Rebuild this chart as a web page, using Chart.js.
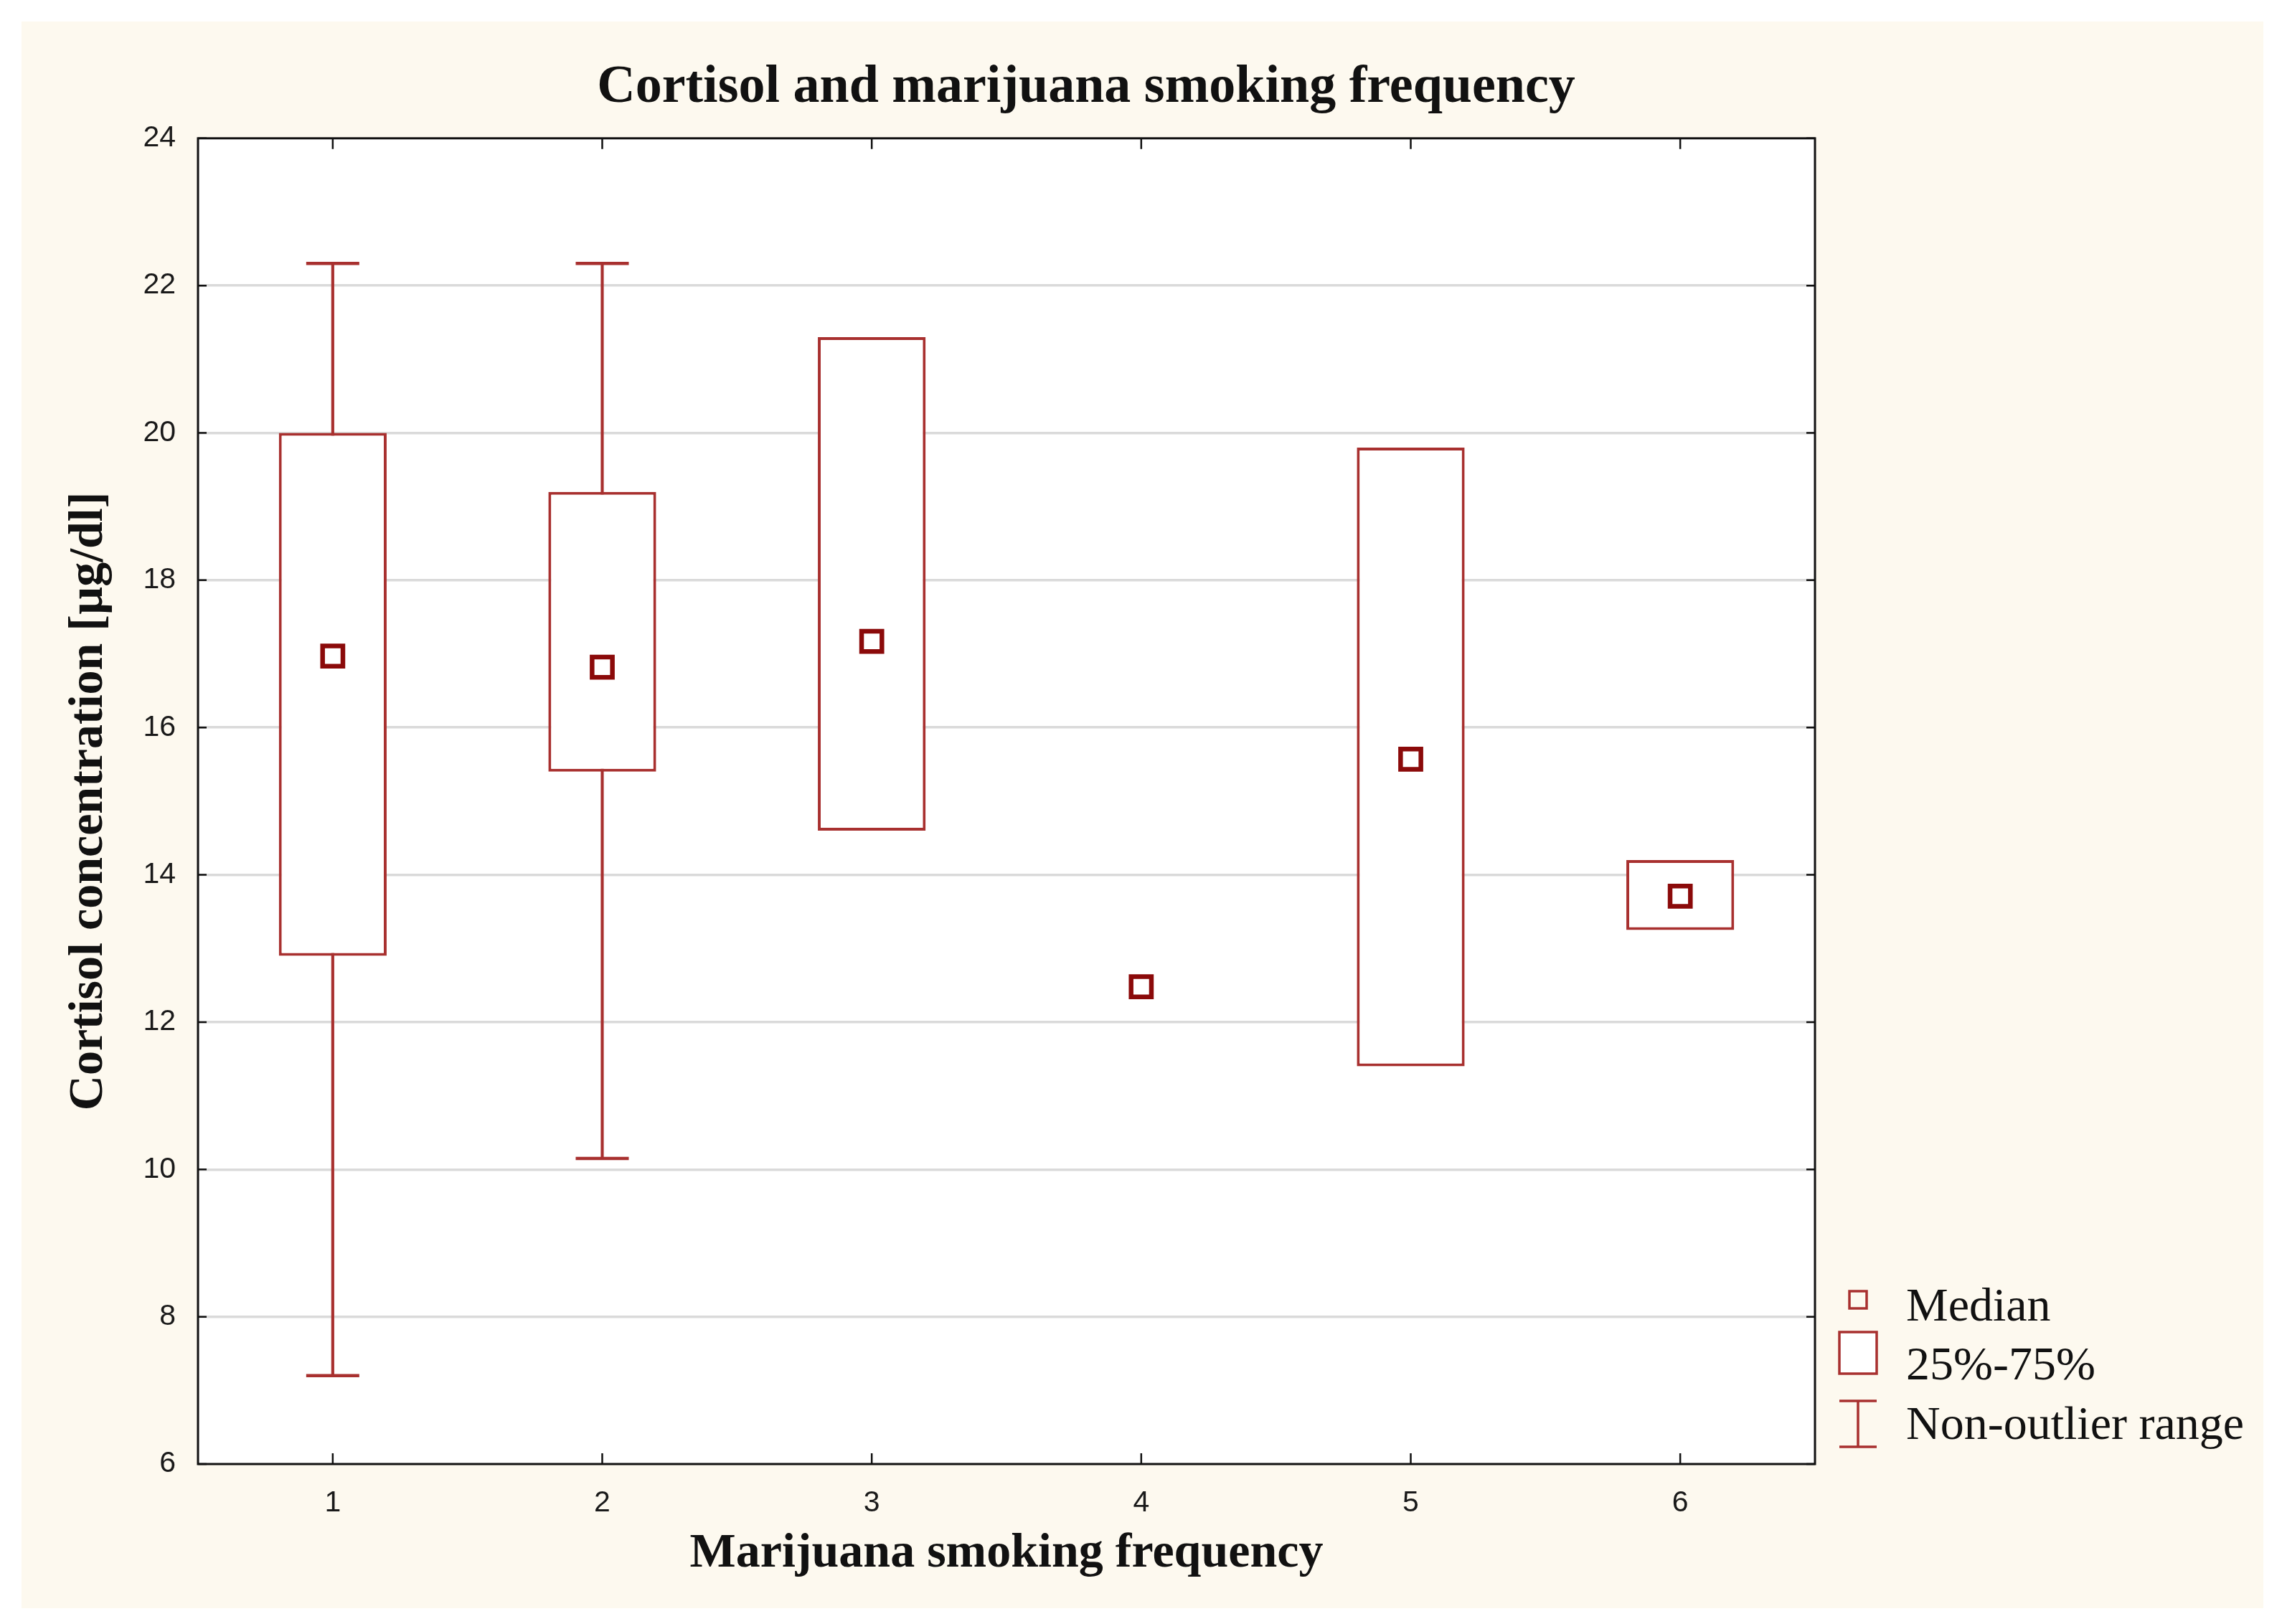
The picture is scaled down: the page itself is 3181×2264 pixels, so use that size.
<!DOCTYPE html>
<html>
<head>
<meta charset="utf-8">
<script src="https://cdn.jsdelivr.net/npm/chart.js@4.4.1/dist/chart.umd.min.js"></script>
<style>
  html, body { margin: 0; padding: 0; background: #ffffff; }
  canvas { display: block; }
</style>
</head>
<body>
<canvas id="c" width="3181" height="2264"></canvas>
<script>
// ---- data ----
const categories = ['1', '2', '3', '4', '5', '6'];
const whiskerLow  = [7.2, 10.15, null, null, null, null];
const whiskerHigh = [22.3, 22.3, null, null, null, null];
const q1          = [12.9, 15.4, 14.6, null, 11.4, 13.25];
const q3          = [20.0, 19.2, 21.3, null, 19.8, 14.2];
const medians     = [16.97, 16.82, 17.17, 12.48, 15.57, 13.71];
const yTicks      = [6, 8, 10, 12, 14, 16, 18, 20, 22, 24];
const legendLabels = ['Median', '25%-75%', 'Non-outlier range'];

const titleText = 'Cortisol and marijuana smoking frequency';
const xTitle = 'Marijuana smoking frequency';
const yTitle = 'Cortisol concentration [µg/dl]';

// ---- styles ----
const BOX_COLOR = '#a8302f';
const MED_COLOR = '#8b0a0a';
const SERIF = "'Liberation Serif', 'Times New Roman', serif";
const SANS = "'Liberation Sans', Arial, sans-serif";

const whiskerData = categories.map((c, i) =>
  (whiskerLow[i] != null && whiskerHigh[i] != null) ? [whiskerLow[i], whiskerHigh[i]] : null);
const boxData = categories.map((c, i) =>
  (q1[i] != null && q3[i] != null) ? [q1[i], q3[i]] : null);

const bgPlugin = {
  id: 'bg',
  beforeDraw(chart) {
    const ctx = chart.ctx;
    ctx.save();
    ctx.fillStyle = '#ffffff';
    ctx.fillRect(0, 0, chart.width, chart.height);
    ctx.fillStyle = '#fdf9ef';
    ctx.fillRect(30, 30, 3125, 2212);
    const a = chart.chartArea;
    ctx.fillStyle = '#ffffff';
    ctx.fillRect(a.left, a.top, a.right - a.left, a.bottom - a.top);
    ctx.restore();
  },
  afterDraw(chart) {
    const ctx = chart.ctx;
    const a = chart.chartArea;
    const xs = chart.scales.x, ys = chart.scales.y;
    ctx.save();
    // frame
    ctx.strokeStyle = '#111111';
    ctx.lineWidth = 3;
    ctx.strokeRect(a.left, a.top, a.right - a.left, a.bottom - a.top);
    // inward ticks
    ctx.lineWidth = 2.5;
    ctx.beginPath();
    categories.forEach((c, i) => {
      const px = xs.getPixelForValue(i);
      ctx.moveTo(px, a.bottom); ctx.lineTo(px, a.bottom - 15);
      ctx.moveTo(px, a.top); ctx.lineTo(px, a.top + 15);
    });
    yTicks.forEach(v => {
      const py = ys.getPixelForValue(v);
      ctx.moveTo(a.left, py); ctx.lineTo(a.left + 12, py);
      ctx.moveTo(a.right, py); ctx.lineTo(a.right - 12, py);
    });
    ctx.stroke();

    // legend
    const cx = a.right + 60;
    const textX = a.right + 127;
    const rows = [a.bottom - 221, a.bottom - 139, a.bottom - 56];
    ctx.strokeStyle = BOX_COLOR;
    ctx.fillStyle = '#ffffff';
    ctx.lineWidth = 3.5;
    ctx.strokeRect(cx - 12, rows[0] - 20, 24, 24);
    ctx.fillRect(cx - 26, rows[1] - 45, 52, 58);
    ctx.strokeRect(cx - 26, rows[1] - 45, 52, 58);
    ctx.beginPath();
    ctx.moveTo(cx - 26, rows[2] - 32); ctx.lineTo(cx + 26, rows[2] - 32);
    ctx.moveTo(cx, rows[2] - 32); ctx.lineTo(cx, rows[2] + 32);
    ctx.moveTo(cx - 26, rows[2] + 32); ctx.lineTo(cx + 26, rows[2] + 32);
    ctx.stroke();
    ctx.fillStyle = '#111111';
    ctx.font = '66px ' + SERIF;
    ctx.textBaseline = 'middle';
    ctx.textAlign = 'left';
    legendLabels.forEach((t, i) => ctx.fillText(t, textX, rows[i] + 4));
    ctx.restore();
  }
};

new Chart(document.getElementById('c'), {
  type: 'bar',
  data: {
    labels: categories,
    datasets: [
      {
        type: 'bar',
        label: 'whisker',
        data: whiskerData,
        backgroundColor: BOX_COLOR,
        borderWidth: 0,
        barThickness: 3.5,
        grouped: false,
        order: 4
      },
      {
        type: 'line',
        label: 'whisker low',
        data: whiskerLow,
        showLine: false,
        pointStyle: 'line',
        pointRadius: 37,
        pointBorderWidth: 4.5,
        pointBorderColor: BOX_COLOR,
        pointHoverRadius: 37,
        order: 3
      },
      {
        type: 'line',
        label: 'whisker high',
        data: whiskerHigh,
        showLine: false,
        pointStyle: 'line',
        pointRadius: 37,
        pointBorderWidth: 4.5,
        pointBorderColor: BOX_COLOR,
        pointHoverRadius: 37,
        order: 3
      },
      {
        type: 'bar',
        label: '25%-75%',
        data: boxData,
        backgroundColor: '#ffffff',
        borderColor: BOX_COLOR,
        borderWidth: 4,
        borderSkipped: false,
        barPercentage: 0.4,
        categoryPercentage: 1,
        grouped: false,
        order: 2
      },
      {
        type: 'line',
        label: 'Median',
        data: medians,
        showLine: false,
        pointStyle: 'rect',
        pointRadius: 20,
        pointHoverRadius: 20,
        pointBorderWidth: 6.5,
        pointBorderColor: MED_COLOR,
        pointBackgroundColor: '#ffffff',
        order: 1
      }
    ]
  },
  options: {
    responsive: false,
    devicePixelRatio: 1,
    animation: false,
    events: [],
    layout: { padding: { left: 0, right: 153, top: 0, bottom: 0 } },
    plugins: {
      legend: { display: false },
      tooltip: { enabled: false },
      title: {
        display: true,
        text: titleText,
        color: '#111111',
        font: { family: SERIF, size: 74, weight: 'bold', lineHeight: 1.2 },
        padding: { top: 78, bottom: 26 }
      }
    },
    scales: {
      x: {
        type: 'category',
        offset: true,
        grid: { display: false, drawTicks: false },
        border: { display: false },
        ticks: { color: '#1a1a1a', font: { family: SANS, size: 41 }, padding: 30 },
        title: {
          display: true,
          text: xTitle,
          color: '#111111',
          font: { family: SERIF, size: 68, weight: 'bold', lineHeight: 1.2 },
          padding: { top: 0, bottom: 57 }
        },
        afterFit(scale) { scale.height = 223; }
      },
      y: {
        type: 'linear',
        position: 'left',
        min: 6,
        max: 24,
        afterBuildTicks(scale) { scale.ticks = yTicks.map(v => ({ value: v })); },
        grid: {
          color: (ctx) => (ctx.tick && (ctx.tick.value === 6 || ctx.tick.value === 24)) ? 'rgba(0,0,0,0)' : '#dadada',
          lineWidth: 3.5,
          drawTicks: false
        },
        border: { display: false },
        ticks: { color: '#1a1a1a', font: { family: SANS, size: 41 }, padding: 31 },
        title: {
          display: true,
          text: yTitle,
          color: '#111111',
          font: { family: SERIF, size: 68, weight: 'bold', lineHeight: 1.2 },
          padding: { top: 84, bottom: 0 }
        },
        afterFit(scale) { scale.width = 276; }
      },
      yRight: {
        type: 'linear',
        position: 'right',
        min: 6,
        max: 24,
        display: true,
        grid: { display: false, drawTicks: false },
        border: { display: false },
        ticks: { display: false },
        afterFit(scale) { scale.width = 498; }
      }
    }
  },
  plugins: [bgPlugin]
});
</script>
</body>
</html>
